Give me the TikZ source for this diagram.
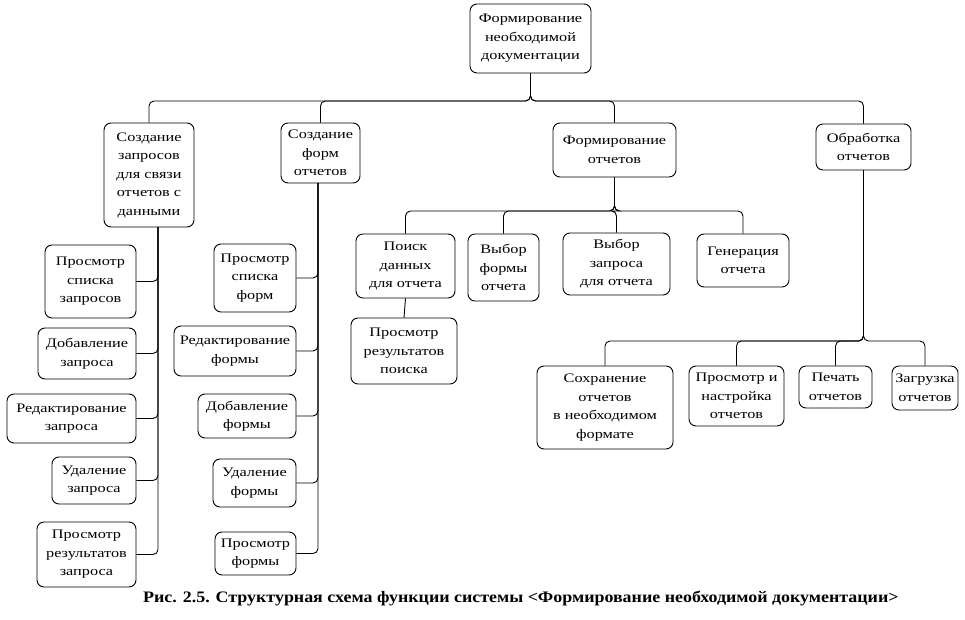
\documentclass[tikz,border=0pt]{standalone}
\usepackage{fontspec}
\setmainfont{Liberation Serif}
\newfontfamily\boxfont[FakeStretch=1.25]{Liberation Serif}
\newfontfamily\capfont[FakeStretch=1.12,UprightFont=*,BoldFont=* Bold]{Liberation Serif}
\begin{document}
\begin{tikzpicture}[x=1pt,y=-1pt,
  box/.style={draw,line width=0.9pt,rounded corners=7pt,inner sep=0pt,
    align=center,font=\boxfont\fontsize{13}{18.5}\selectfont},
  conn/.style={draw,line width=0.9pt,rounded corners=5pt}]
\useasboundingbox (0,0) rectangle (965,620);
\newcommand\bx[6]{\node[box,minimum width={(#3-#2)*1pt},minimum height={(#5-#4)*1pt}] (#1) at ({(#2+#3)/2},{(#4+#5)/2}) {#6};}
% top
\bx{top}{470}{591}{4}{73}{Формирование\\необходимой\\документации}
% level 1
\bx{A}{104}{194}{123}{227}{Создание\\запросов\\для связи\\отчетов с\\данными}
\bx{B}{281}{360}{123}{183}{Создание\\форм\\отчетов}
\bx{C}{553}{676}{123}{177}{Формирование\\отчетов}
\bx{D}{816}{911}{124}{170}{Обработка\\отчетов}
% A children
\bx{A1}{45}{136}{245}{318}{Просмотр\\списка\\запросов}
\bx{A2}{38}{136}{328}{379}{Добавление\\запроса}
\bx{A3}{7}{136}{394}{443}{Редактирование\\запроса}
\bx{A4}{52}{136}{457}{504}{Удаление\\запроса}
\bx{A5}{37}{136}{522}{587}{Просмотр\\результатов\\запроса}
% B children
\bx{B1}{214}{296}{244}{312}{Просмотр\\списка\\форм}
\bx{B2}{174}{296}{326}{376}{Редактирование\\формы}
\bx{B3}{198}{296}{394}{438}{Добавление\\формы}
\bx{B4}{213}{296}{459}{507}{Удаление\\формы}
\bx{B5}{215}{296}{532}{575}{Просмотр\\формы}
% C children
\bx{C1}{356}{455}{234}{298}{Поиск\\данных\\для отчета}
\bx{C2}{468}{539}{234}{301}{Выбор\\формы\\отчета}
\bx{C3}{563}{670}{233}{295}{Выбор\\запроса\\для отчета}
\bx{C4}{697}{789}{234}{287}{Генерация\\отчета}
\bx{C1a}{351}{457}{318}{384}{Просмотр\\результатов\\поиска}
% D children
\bx{D1}{537}{673}{366}{449}{Сохранение\\отчетов\\в необходимом\\формате}
\bx{D2}{689}{784}{366}{426}{Просмотр и\\настройка\\отчетов}
\bx{D3}{799}{872}{366}{408}{Печать\\отчетов}
\bx{D4}{892}{958}{366}{410}{Загрузка\\отчетов}
% connector helpers
\coordinate (busT) at (0,101);
\coordinate (busC) at (0,211);
\coordinate (busD) at (0,341);
\coordinate (Av) at (158,227);
\coordinate (Bv) at (318,183);
% main bus
\foreach \n in {A,B,C,D}{\path[conn] (\n.north) |- (top.south |- busT) -- (top.south);}
% C bus
\foreach \n in {C1,C2,C3,C4}{\path[conn] (\n.north) |- (C.south |- busC) -- (C.south);}
\draw[line width=0.9pt] (C1.south) -- (C1a.north);
% D bus
\foreach \n in {D1,D2,D3,D4}{\path[conn] (\n.north) |- (D.south |- busD) -- (D.south);}
% A and B verticals
\foreach \n in {A1,A2,A3,A4,A5}{\path[conn] (\n.east) -| (Av);}
\foreach \n in {B1,B2,B3,B4,B5}{\path[conn] (\n.east) -| (Bv);}
% caption
\node[font=\capfont\bfseries\fontsize{16}{18}\selectfont,anchor=base west,inner sep=0pt] (cap) at (143,602)
  {Рис. 2.5. Структурная схема функции системы <Формирование необходимой документации>};
\end{tikzpicture}
\end{document}
